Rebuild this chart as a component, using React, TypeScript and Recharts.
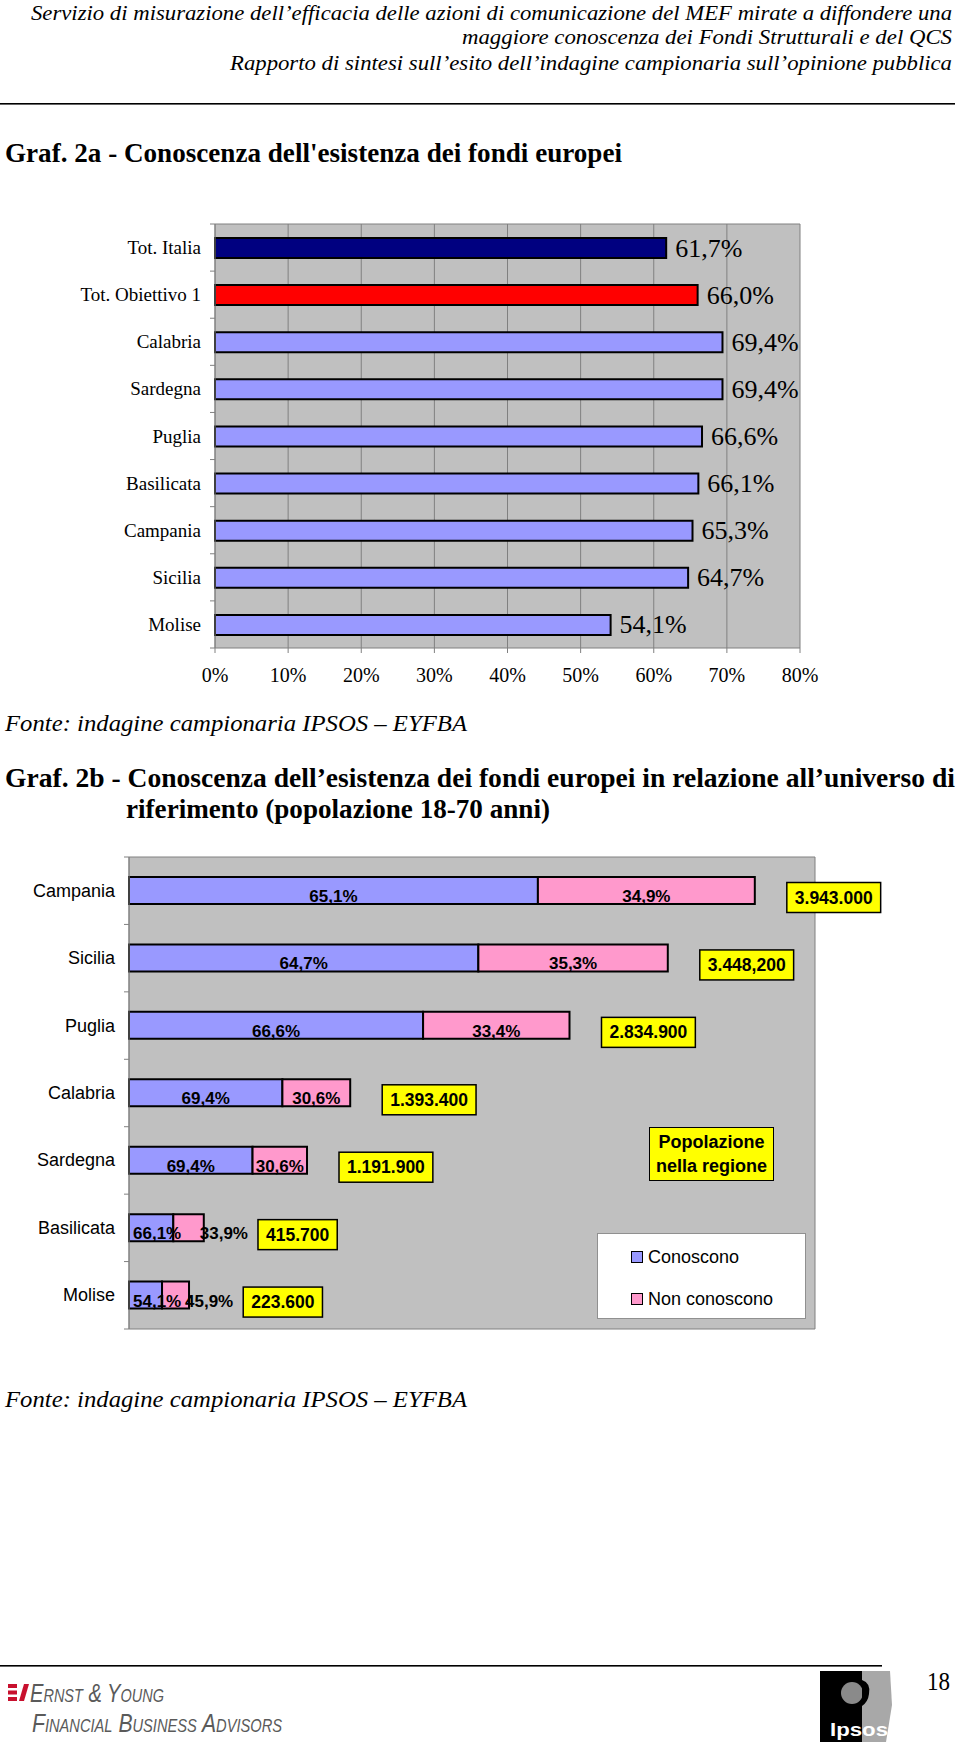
import React from 'react';
import { BarChart, Bar, XAxis, YAxis, CartesianGrid, LabelList, Cell, Legend } from 'recharts';

const SERIF = "'Liberation Serif', 'Times New Roman', serif";
const SANS = "'Liberation Sans', Arial, sans-serif";

// Graf. 2a - share that knows the EU funds (%)
const AREAS_2A = ['Tot. Italia', 'Tot. Obiettivo 1', 'Calabria', 'Sardegna', 'Puglia', 'Basilicata', 'Campania', 'Sicilia', 'Molise'];
const SHARE_2A = [61.7, 66.0, 69.4, 69.4, 66.6, 66.1, 65.3, 64.7, 54.1];
const TICKS_2A = [0, 10, 20, 30, 40, 50, 60, 70, 80];

// Graf. 2b - segment lengths as drawn (thousands of people)
const REGIONS_2B = ['Campania', 'Sicilia', 'Puglia', 'Calabria', 'Sardegna', 'Basilicata', 'Molise'];
const KNOW_2B = [2575, 2200, 1852, 966, 778, 279, 208];
const NOT_KNOW_2B = [1366, 1193, 922, 427, 343, 192, 170];
const KNOW_PCT_2B = ['65,1%', '64,7%', '66,6%', '69,4%', '69,4%', '66,1%', '54,1%'];
const NOT_KNOW_PCT_2B = ['34,9%', '35,3%', '33,4%', '30,6%', '30,6%', '33,9%', '45,9%'];
const POP_2B = ['3.943.000', '3.448,200', '2.834.900', '1.393.400', '1.191.900', '415.700', '223.600'];
const TICKS_2B = [0, 720, 1440, 2160, 2880, 3600, 4320];

const data2a = AREAS_2A.map((name, i) => ({ name, value: SHARE_2A[i] }));
const data2b = REGIONS_2B.map((name, i) => ({ name, know: KNOW_2B[i], notKnow: NOT_KNOW_2B[i] }));

const fill2a = (i: number) => (i === 0 ? '#000080' : i === 1 ? '#FF0000' : '#9999FF');

// layout of the two charts (chart-relative pixels)
const C1 = { top: 200, width: 960, height: 490, mTop: 24, mRight: 160, mBottom: 2, yw: 215, xh: 40 };
const C2 = { top: 820, width: 960, height: 519, mTop: 37, mRight: 145, mBottom: 0, yw: 129, xh: 10 };
const BAND_2A = (C1.height - C1.mBottom - C1.xh - C1.mTop) / AREAS_2A.length;
const BAND_2B = (C2.height - C2.mBottom - C2.xh - C2.mTop) / REGIONS_2B.length;

const fmtPct = (v: number) => `${v.toFixed(1).replace('.', ',')}%`;

// rough Arial bold widths
const charW = (c: string) => (c === '%' ? 0.889 : c === ',' || c === '.' ? 0.278 : 0.556);
const textWidth = (s: string, size: number) => s.split('').reduce((a, c) => a + charW(c), 0) * size;

const CatTick = ({ x, y, payload, index, band, font, size }: any) => (
  <g>
    <text x={x - 14} y={y} textAnchor="end" dominantBaseline="central" fontFamily={font} fontSize={size} fill="#000">
      {payload.value}
    </text>
    {index === 0 && <line x1={x - 5} x2={x} y1={y - band / 2} y2={y - band / 2} stroke="#808080" />}
    <line x1={x - 5} x2={x} y1={y + band / 2} y2={y + band / 2} stroke="#808080" />
  </g>
);

const PctTick = ({ x, y, payload }: any) => (
  <text x={x} y={y + 22} textAnchor="middle" dominantBaseline="central" fontFamily={SERIF} fontSize={20} fill="#000">
    {`${payload.value}%`}
  </text>
);

const ShareLabel = (props: any) => {
  const vb = props.viewBox || props;
  const x = props.x ?? vb.x;
  const y = props.y ?? vb.y;
  const width = props.width ?? vb.width;
  const height = props.height ?? vb.height;
  return (
    <text x={x + width + 9} y={y + height / 2} dominantBaseline="central" fontFamily={SERIF} fontSize={26} fill="#000">
      {fmtPct(Number(props.value))}
    </text>
  );
};

function placeLabel(x: number, w: number, text: string, side: 'left' | 'right') {
  const tw = textWidth(text, 17);
  if (w >= tw + 2) return { x: x + w / 2, anchor: 'middle', end: x + w / 2 + tw / 2 };
  if (side === 'left') return { x: x + 4, anchor: 'start', end: x + 4 + tw };
  return { x: x + w - 4, anchor: 'start', end: x + w - 4 + tw };
}

const SegmentLabels = (props: any) => {
  const vb = props.viewBox || props;
  const x = props.x ?? vb.x;
  const y = props.y ?? vb.y;
  const width = props.width ?? vb.width;
  const height = props.height ?? vb.height;
  const i = REGIONS_2B.indexOf(props.value);
  if (i < 0) return null;
  const cy = y + height / 2 + 6;
  const blue = placeLabel(C2.yw, x - C2.yw, KNOW_PCT_2B[i], 'left');
  const pink = placeLabel(x, width, NOT_KNOW_PCT_2B[i], 'right');
  const pop = POP_2B[i];
  const bw = textWidth(pop, 17.5) + 16;
  const bx = Math.max(x + width + 32, pink.end + 10);
  const by = y + height / 2 + 7 - 15;
  const txt = { fontFamily: SANS, fontSize: 17, fontWeight: 700, fill: '#000' } as const;
  return (
    <g>
      <text x={blue.x} y={cy} textAnchor={blue.anchor as any} dominantBaseline="central" {...txt}>{KNOW_PCT_2B[i]}</text>
      <text x={pink.x} y={cy} textAnchor={pink.anchor as any} dominantBaseline="central" {...txt}>{NOT_KNOW_PCT_2B[i]}</text>
      <rect x={bx} y={by} width={bw} height={30} fill="#FFFF00" stroke="#000" strokeWidth={1.5} />
      <text x={bx + bw / 2} y={by + 15} textAnchor="middle" dominantBaseline="central" {...txt} fontSize={17.5}>{pop}</text>
    </g>
  );
};

const LegendBox = ({ payload }: any) => (
  <div style={{ width: 209, height: 86, background: '#fff', border: '1px solid #909090', boxSizing: 'border-box', position: 'relative', fontFamily: SANS, fontSize: 18, color: '#000' }}>
    {(payload || []).map((p: any, i: number) => (
      <div key={p.value} style={{ position: 'absolute', left: 33, top: 11 + i * 42, height: 24, display: 'flex', alignItems: 'center', whiteSpace: 'nowrap' }}>
        <span style={{ display: 'inline-block', width: 10, height: 10, background: p.color, border: '1px solid #000', marginRight: 5 }} />
        {p.value}
      </div>
    ))}
  </div>
);

const PageText = () => (
  <svg width={960} height={1742} style={{ position: 'absolute', left: 0, top: 0 }}>
    <g fontFamily={SERIF} fill="#000">
      <g fontStyle="italic" fontSize={22}>
        <text x={31} y={19.5} textLength={921} lengthAdjust="spacingAndGlyphs">Servizio di misurazione dell’efficacia delle azioni di comunicazione del MEF mirate a diffondere una</text>
        <text x={462} y={44} textLength={490} lengthAdjust="spacingAndGlyphs">maggiore conoscenza dei Fondi Strutturali e del QCS</text>
        <text x={230} y={69.5} textLength={722} lengthAdjust="spacingAndGlyphs">Rapporto di sintesi sull’esito dell’indagine campionaria sull’opinione pubblica</text>
      </g>
      <rect x={0} y={103} width={955} height={1.6} fill="#000" />
      <g fontWeight={700} fontSize={27}>
        <text x={5} y={162} textLength={617} lengthAdjust="spacingAndGlyphs">Graf. 2a - Conoscenza dell'esistenza dei fondi europei</text>
        <text x={5} y={787} textLength={950} lengthAdjust="spacingAndGlyphs">Graf. 2b - Conoscenza dell’esistenza dei fondi europei in relazione all’universo di</text>
        <text x={126} y={818} textLength={424} lengthAdjust="spacingAndGlyphs">riferimento (popolazione 18-70 anni)</text>
      </g>
      <g fontStyle="italic" fontSize={24}>
        <text x={5} y={731} textLength={462} lengthAdjust="spacingAndGlyphs">Fonte: indagine campionaria IPSOS – EYFBA</text>
        <text x={5} y={1407} textLength={462} lengthAdjust="spacingAndGlyphs">Fonte: indagine campionaria IPSOS – EYFBA</text>
      </g>
      <rect x={0} y={1665} width={882} height={1.6} fill="#000" />
      <text x={927} y={1690} fontSize={26} textLength={23} lengthAdjust="spacingAndGlyphs">18</text>
    </g>
    {/* Ernst & Young */}
    <g fill="#C8102E">
      <rect x={8} y={1684} width={9} height={4} />
      <rect x={8} y={1690.5} width={9} height={4} />
      <rect x={8} y={1697} width={9} height={4} />
      <polygon points="19,1701 24,1701 29,1684 24,1684" />
    </g>
    <g fill="#5a5a5a" fontFamily={SANS} fontStyle="italic" style={{ fontVariant: 'small-caps' }}>
      <text x={30} y={1702} fontSize={25} textLength={134} lengthAdjust="spacingAndGlyphs">Ernst &amp; Young</text>
      <text x={32} y={1732} fontSize={26} textLength={250} lengthAdjust="spacingAndGlyphs">Financial Business Advisors</text>
    </g>
    {/* Ipsos */}
    <rect x={820} y={1671} width={44} height={71} fill="#000" />
    <polygon points="862,1671 890,1671 892,1705 886,1742 862,1742" fill="#A8A8A8" />
    <circle cx={852} cy={1693} r={11} fill="#8a8a8a" />
    <path d="M862,1680 q9,3 7,14 q-1,8 -7,12 z" fill="#000" />
    <text x={830} y={1736} fontFamily={SANS} fontWeight={700} fontSize={18} fill="#fff" textLength={58} lengthAdjust="spacingAndGlyphs">Ipsos</text>
  </svg>
);

export default function App() {
  return (
    <div style={{ position: 'absolute', left: 0, top: 0, width: 960, height: 1742, overflow: 'hidden', background: '#fff' }}>
      <PageText />

      {/* Graf. 2a */}
      <div style={{ position: 'absolute', left: 0, top: C1.top }}>
        <BarChart
          width={C1.width}
          height={C1.height}
          layout="vertical"
          data={data2a}
          margin={{ top: C1.mTop, right: C1.mRight, bottom: C1.mBottom, left: 0 }}
          barSize={20}
        >
          <CartesianGrid stroke="#808080" fill="#C0C0C0" horizontalPoints={[C1.mTop]} />
          <XAxis type="number" domain={[0, 80]} ticks={TICKS_2A} interval={0} tick={<PctTick />} tickSize={5} tickMargin={0} stroke="#808080" height={C1.xh} />
          <YAxis
            type="category"
            dataKey="name"
            width={C1.yw}
            interval={0}
            tickSize={0}
            tickMargin={0}
            tick={<CatTick band={BAND_2A} font={SERIF} size={19} />}
            stroke="#808080"
          />
          <Bar dataKey="value" stroke="#000" strokeWidth={2} isAnimationActive={false}>
            {data2a.map((d, i) => (
              <Cell key={d.name} fill={fill2a(i)} />
            ))}
            <LabelList dataKey="value" content={ShareLabel} />
          </Bar>
        </BarChart>
      </div>

      {/* Graf. 2b */}
      <div style={{ position: 'absolute', left: 0, top: C2.top }}>
        <BarChart
          width={C2.width}
          height={C2.height}
          layout="vertical"
          data={data2b}
          margin={{ top: C2.mTop, right: C2.mRight, bottom: C2.mBottom, left: 0 }}
          barSize={27}
        >
          <CartesianGrid stroke="#808080" fill="#C0C0C0" horizontalPoints={[C2.mTop]} />
          <XAxis type="number" domain={[0, 4320]} ticks={TICKS_2B} interval={0} tick={false} tickSize={5} stroke="#808080" height={C2.xh} />
          <YAxis
            type="category"
            dataKey="name"
            width={C2.yw}
            interval={0}
            tickSize={0}
            tickMargin={0}
            tick={<CatTick band={BAND_2B} font={SANS} size={18} />}
            stroke="#808080"
          />
          <Legend
            layout="vertical"
            align="center"
            verticalAlign="middle"
            content={<LegendBox />}
            wrapperStyle={{ position: 'absolute', left: 597, top: 413, width: 209, height: 86 }}
          />
          <Bar dataKey="know" name="Conoscono" stackId="a" fill="#9999FF" stroke="#000" strokeWidth={2} isAnimationActive={false} />
          <Bar dataKey="notKnow" name="Non conoscono" stackId="a" fill="#FF99CC" stroke="#000" strokeWidth={2} isAnimationActive={false}>
            <LabelList dataKey="name" content={SegmentLabels} />
          </Bar>
        </BarChart>
      </div>

      <div
        style={{
          position: 'absolute',
          left: 649,
          top: 1127,
          width: 125,
          height: 54,
          boxSizing: 'border-box',
          background: '#FFFF00',
          border: '1.5px solid #000',
          fontFamily: SANS,
          fontWeight: 700,
          fontSize: 18,
          lineHeight: '24px',
          textAlign: 'center',
          paddingTop: 2,
        }}
      >
        Popolazione
        <br />
        nella regione
      </div>
    </div>
  );
}
